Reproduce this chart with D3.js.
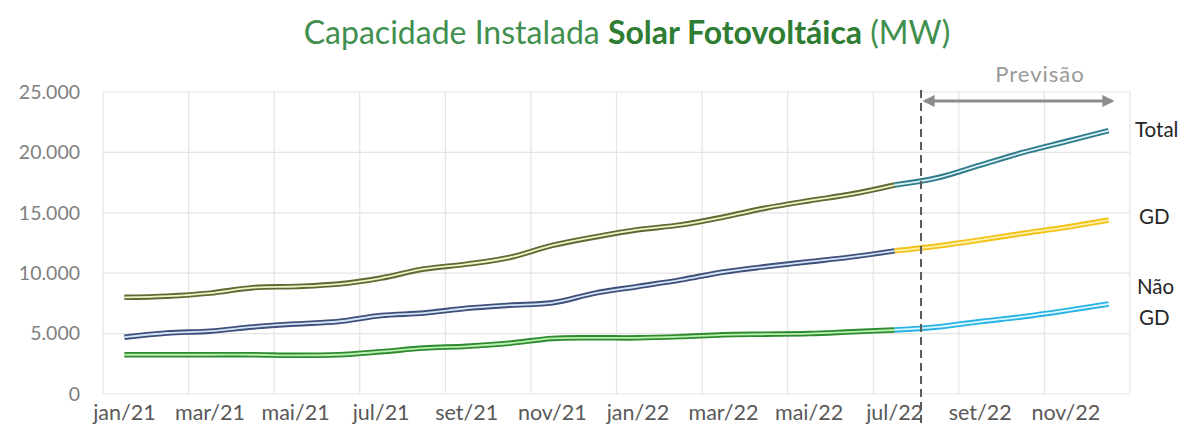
<!DOCTYPE html>
<html>
<head>
<meta charset="utf-8">
<script src="https://cdn.jsdelivr.net/npm/d3@7"></script>
<style>
  body { margin: 0; background: #fff; }
  svg { font-family: Lato, "Open Sans", sans-serif; }
</style>
</head>
<body>
<svg id="chart" width="1184" height="430"></svg>
<script>
const months = ["jan/21","fev/21","mar/21","abr/21","mai/21","jun/21","jul/21","ago/21","set/21","out/21","nov/21","dez/21",
                "jan/22","fev/22","mar/22","abr/22","mai/22","jun/22","jul/22","ago/22","set/22","out/22","nov/22","dez/22"];
const total = [8000, 8100, 8350, 8800, 8900, 9100, 9600, 10350, 10750, 11300, 12300, 13000,
               13600, 14000, 14650, 15400, 16000, 16550, 17300, 17900, 18950, 20000, 20900, 21800];
const gd = [4700, 5050, 5200, 5550, 5800, 6000, 6500, 6700, 7100, 7350, 7550, 8350,
            8900, 9450, 10100, 10550, 10950, 11350, 11850, 12250, 12750, 13300, 13800, 14400];
const naoGd = [3250, 3250, 3250, 3250, 3200, 3250, 3500, 3800, 3950, 4200, 4600, 4650,
               4650, 4750, 4900, 4950, 5000, 5150, 5300, 5550, 6000, 6400, 6900, 7450];
const yTicks = [0, 5000, 10000, 15000, 20000, 25000];
const forecastStart = "jul/22";

const svg = d3.select("#chart");
const margin = {top: 92, left: 103, bottom: 36, right: 54};
const width = +svg.attr("width");
const height = +svg.attr("height");

const x = d3.scaleBand()
    .domain(months)
    .range([margin.left, width - margin.right])
    .padding(0);

const y = d3.scaleLinear()
    .domain([0, 25000])
    .range([height - margin.bottom, margin.top]);

const fmt = d => d3.format(",")(d).replace(/,/g, ".");

// grid
const grid = svg.append("g").attr("stroke", "#e4e4e4").attr("stroke-width", 1.2);
grid.selectAll(".hgrid")
    .data(yTicks)
    .enter().append("line")
    .attr("x1", margin.left).attr("x2", width - margin.right)
    .attr("y1", d => y(d)).attr("y2", d => y(d));

const vLines = months.filter((m, i) => i % 2 == 0).map(m => x(m)).concat([width - margin.right]);
grid.selectAll(".vgrid")
    .data(vLines)
    .enter().append("line")
    .attr("x1", d => d).attr("x2", d => d)
    .attr("y1", y(25000)).attr("y2", y(0));

// y axis labels
const yAxis = svg.append("g")
    .attr("transform", `translate(${margin.left},0)`)
    .call(d3.axisLeft(y).tickValues(yTicks).tickFormat(fmt).tickSize(0).tickPadding(23));
yAxis.select(".domain").remove();
yAxis.selectAll("text")
    .attr("font-family", "Lato, sans-serif")
    .attr("font-size", 19.5)
    .attr("fill", "#808080");

// x axis labels
const xAxis = svg.append("g")
    .attr("transform", `translate(0,${y(0)})`)
    .call(d3.axisBottom(x).tickValues(months.filter((m, i) => i % 2 == 0)).tickSize(0).tickPadding(11));
xAxis.select(".domain").remove();
xAxis.selectAll("text")
    .attr("font-family", "Lato, sans-serif")
    .attr("font-size", 21.5)
    .attr("fill", "#595959");

// lines
const line = d3.line()
    .x(d => x(d.m) + x.bandwidth() / 2)
    .y(d => y(d.v))
    .curve(d3.curveCatmullRom.alpha(0.5));

const fi = months.indexOf(forecastStart);
const series = [
    {values: total, real: ["#5e6a34", "#eef3c4"], fc: ["#2f7b8c", "#d8f1f5"]},
    {values: gd, real: ["#3d4f7a", "#d6e2f5"], fc: ["#f2c21b", "#fff0a8"]},
    {values: naoGd, real: ["#2f8a2f", "#b8f0b0"], fc: ["#27b4e4", "#dcf6ff"]}
];

series.forEach(s => {
    const pts = months.map((m, i) => ({m: m, v: s.values[i]}));
    const parts = [
        {data: pts.slice(0, fi + 1), col: s.real},
        {data: pts.slice(fi), col: s.fc}
    ];
    parts.forEach(p => {
        svg.append("path")
            .datum(p.data)
            .attr("fill", "none")
            .attr("stroke", p.col[0])
            .attr("stroke-width", 5.5)
            .attr("d", line);
        svg.append("path")
            .datum(p.data)
            .attr("fill", "none")
            .attr("stroke", p.col[1])
            .attr("stroke-width", 1.8)
            .attr("d", line);
    });
});

// forecast marker
const xf = x("ago/22") + 5;
svg.append("line")
    .attr("x1", xf).attr("x2", xf)
    .attr("y1", 90).attr("y2", 426)
    .attr("stroke", "#595959")
    .attr("stroke-width", 2)
    .attr("stroke-dasharray", "8,5");

const defs = svg.append("defs");
defs.append("marker")
    .attr("id", "arr")
    .attr("viewBox", "0 0 10 10")
    .attr("refX", 8).attr("refY", 5)
    .attr("markerWidth", 4).attr("markerHeight", 4)
    .attr("orient", "auto-start-reverse")
    .append("path")
    .attr("d", "M0,0 L10,5 L0,10 Z")
    .attr("fill", "#8c8c8c");

svg.append("line")
    .attr("x1", xf + 4).attr("x2", width - margin.right - 18)
    .attr("y1", 101).attr("y2", 101)
    .attr("stroke", "#8c8c8c")
    .attr("stroke-width", 3)
    .attr("marker-start", "url(#arr)")
    .attr("marker-end", "url(#arr)");

svg.append("text")
    .attr("x", 1040).attr("y", 82)
    .attr("text-anchor", "middle")
    .attr("font-size", 22)
    .attr("fill", "#999999")
    .attr("letter-spacing", 1)
    .text("Previsão");

// series labels
const labels = [
    {t: "Total", x: 1135, y: 137},
    {t: "GD", x: 1139, y: 224},
    {t: "Não", x: 1137, y: 294},
    {t: "GD", x: 1139, y: 325}
];
svg.selectAll(".lbl")
    .data(labels)
    .enter().append("text")
    .attr("x", d => d.x).attr("y", d => d.y)
    .attr("font-size", 20.5)
    .attr("fill", "#262626")
    .text(d => d.t);

// title
const title = svg.append("text")
    .attr("x", 627).attr("y", 44)
    .attr("text-anchor", "middle")
    .attr("font-size", 32)
    .attr("fill", "#3f8f4f");
title.append("tspan").text("Capacidade Instalada ");
title.append("tspan").attr("font-weight", "bold").attr("fill", "#2e7d32").text("Solar Fotovoltáica");
title.append("tspan").text(" (MW)");
</script>
</body>
</html>
